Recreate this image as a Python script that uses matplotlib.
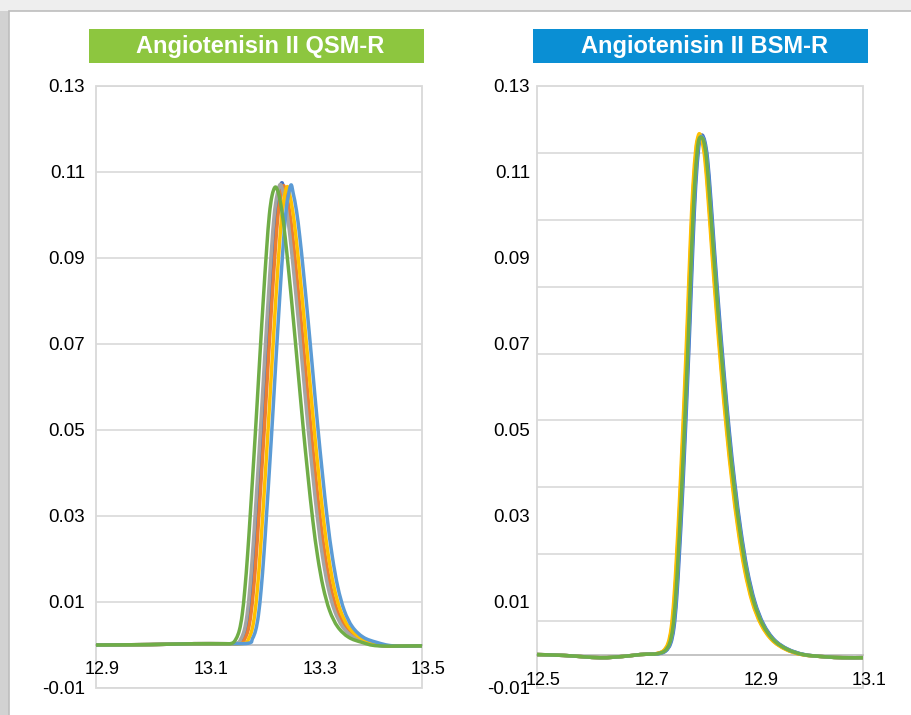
import numpy as np
import matplotlib
matplotlib.use('Agg')
import matplotlib.pyplot as plt
import matplotlib.transforms as mtransforms
from matplotlib.patches import Rectangle, PathPatch
from matplotlib.path import Path

plt.rcParams['font.family'] = ['Liberation Sans', 'DejaVu Sans']

# ============================================================
# data (retention time vs signal)
# ============================================================

COLORS = ['#4472C4', '#ED7D31', '#A5A5A5', '#FFC000', '#5B9BD5', '#70AD47']

# --- QSM-R (left) ---
QSM_Y_LEAD = [0.0000, 0.0001, 0.0003, 0.0003, 0.0004, 0.0015, 0.0035, 0.0070, 0.0130,
              0.0210, 0.0305, 0.0425, 0.0550, 0.0680, 0.0805, 0.0920, 0.1000, 0.1045]
QSM_Y_TAIL = [0.1050, 0.1010, 0.0950, 0.0865, 0.0760, 0.0635, 0.0510, 0.0395, 0.0290,
              0.0205, 0.0135, 0.0080, 0.0042, 0.0018, 0.0006, -0.0002, -0.0002]
QSM_PEAK = [0.1075, 0.1068, 0.1071, 0.1066, 0.1070, 0.1065]
QSM_X = [
    [12.900, 13.000, 13.080, 13.130, 13.162, 13.170, 13.176, 13.181, 13.186, 13.191, 13.196, 13.202,
     13.208, 13.214, 13.220, 13.226, 13.231, 13.236, 13.242, 13.247, 13.253, 13.259, 13.266, 13.274,
     13.283, 13.292, 13.301, 13.310, 13.319, 13.329, 13.341, 13.356, 13.376, 13.401, 13.431, 13.500],
    [12.900, 13.000, 13.080, 13.130, 13.166, 13.174, 13.180, 13.185, 13.190, 13.195, 13.200, 13.206,
     13.212, 13.218, 13.224, 13.230, 13.235, 13.240, 13.245, 13.250, 13.256, 13.262, 13.269, 13.277,
     13.286, 13.295, 13.304, 13.313, 13.322, 13.332, 13.344, 13.359, 13.379, 13.404, 13.434, 13.500],
    [12.900, 13.000, 13.080, 13.130, 13.159, 13.167, 13.173, 13.178, 13.183, 13.188, 13.193, 13.199,
     13.205, 13.211, 13.217, 13.223, 13.228, 13.233, 13.239, 13.245, 13.251, 13.257, 13.264, 13.272,
     13.281, 13.290, 13.299, 13.308, 13.317, 13.327, 13.339, 13.354, 13.374, 13.399, 13.429, 13.500],
    [12.900, 13.000, 13.080, 13.130, 13.173, 13.181, 13.187, 13.192, 13.197, 13.202, 13.207, 13.213,
     13.219, 13.225, 13.231, 13.237, 13.242, 13.247, 13.252, 13.256, 13.262, 13.268, 13.275, 13.283,
     13.292, 13.301, 13.310, 13.319, 13.328, 13.338, 13.350, 13.365, 13.385, 13.410, 13.440, 13.500],
    [12.900, 13.000, 13.080, 13.130, 13.180, 13.188, 13.194, 13.199, 13.204, 13.209, 13.214, 13.220,
     13.226, 13.232, 13.238, 13.244, 13.249, 13.254, 13.259, 13.263, 13.269, 13.275, 13.282, 13.290,
     13.299, 13.308, 13.317, 13.326, 13.335, 13.345, 13.357, 13.372, 13.392, 13.417, 13.447, 13.500],
    [12.900, 13.000, 13.080, 13.130, 13.150, 13.158, 13.164, 13.169, 13.174, 13.179, 13.184, 13.190,
     13.196, 13.202, 13.208, 13.214, 13.219, 13.224, 13.230, 13.236, 13.242, 13.248, 13.255, 13.263,
     13.272, 13.281, 13.290, 13.299, 13.308, 13.318, 13.330, 13.345, 13.365, 13.390, 13.420, 13.500],
]

# --- BSM-R (right) ---
BSM_Y_LEAD = [0.0000, -0.0002, -0.0007, -0.0004, 0.0000, 0.0001, 0.0002, 0.0008, 0.0025, 0.0060,
              0.0125, 0.0225, 0.0340, 0.0470, 0.0610, 0.0760, 0.0920, 0.1050, 0.1130, 0.1155]
BSM_Y_TAIL = [0.1150, 0.1110, 0.1020, 0.0900, 0.0770, 0.0635, 0.0500, 0.0385, 0.0280, 0.0190,
              0.0118, 0.0068, 0.0033, 0.0012, 0.0000, -0.0005, -0.0007, -0.0007]
BSM_PEAK = [0.1165, 0.1165, 0.1163, 0.1168, 0.1162, 0.1160]
BSM_X = [
    [12.500, 12.550, 12.616, 12.660, 12.690, 12.710, 12.724, 12.737, 12.746, 12.752, 12.757, 12.762, 12.767,
     12.772, 12.777, 12.782, 12.787, 12.792, 12.797, 12.800, 12.804, 12.809, 12.814, 12.820, 12.827, 12.835,
     12.844, 12.854, 12.864, 12.875, 12.887, 12.901, 12.917, 12.937, 12.962, 12.992, 13.030, 13.063, 13.100],
    [12.500, 12.550, 12.616, 12.660, 12.690, 12.710, 12.720, 12.733, 12.742, 12.748, 12.753, 12.758, 12.763,
     12.768, 12.773, 12.778, 12.783, 12.788, 12.793, 12.796, 12.800, 12.805, 12.810, 12.816, 12.823, 12.831,
     12.840, 12.850, 12.860, 12.871, 12.883, 12.897, 12.913, 12.933, 12.958, 12.988, 13.030, 13.063, 13.100],
    [12.500, 12.550, 12.616, 12.660, 12.690, 12.710, 12.721, 12.734, 12.743, 12.749, 12.754, 12.759, 12.764,
     12.769, 12.774, 12.779, 12.784, 12.789, 12.794, 12.797, 12.801, 12.806, 12.811, 12.817, 12.824, 12.832,
     12.841, 12.851, 12.861, 12.872, 12.884, 12.898, 12.914, 12.934, 12.959, 12.989, 13.030, 13.063, 13.100],
    [12.500, 12.550, 12.616, 12.660, 12.690, 12.710, 12.719, 12.732, 12.741, 12.747, 12.752, 12.757, 12.762,
     12.767, 12.772, 12.777, 12.782, 12.787, 12.792, 12.795, 12.799, 12.804, 12.809, 12.815, 12.822, 12.830,
     12.839, 12.849, 12.859, 12.870, 12.882, 12.896, 12.912, 12.932, 12.957, 12.987, 13.030, 13.063, 13.100],
    [12.500, 12.550, 12.616, 12.660, 12.690, 12.710, 12.723, 12.736, 12.745, 12.751, 12.756, 12.761, 12.766,
     12.771, 12.776, 12.781, 12.786, 12.791, 12.796, 12.799, 12.803, 12.808, 12.813, 12.819, 12.826, 12.834,
     12.843, 12.853, 12.863, 12.874, 12.886, 12.900, 12.916, 12.936, 12.961, 12.991, 13.030, 13.063, 13.100],
    [12.500, 12.550, 12.616, 12.660, 12.690, 12.710, 12.722, 12.735, 12.744, 12.750, 12.755, 12.760, 12.765,
     12.770, 12.775, 12.780, 12.785, 12.790, 12.795, 12.798, 12.802, 12.807, 12.812, 12.818, 12.825, 12.833,
     12.842, 12.852, 12.862, 12.873, 12.885, 12.899, 12.915, 12.935, 12.960, 12.990, 13.030, 13.063, 13.100],
]

QSM_XTICKS = [12.9, 13.1, 13.3, 13.5]
BSM_XTICKS = [12.5, 12.7, 12.9, 13.1]
Y_LABEL_TICKS = [-0.01, 0.01, 0.03, 0.05, 0.07, 0.09, 0.11, 0.13]

TITLES = ['Angiotenisin II QSM-R', 'Angiotenisin II BSM-R']
TITLE_COLORS = ['#8DC63F', '#0A8FD4']

# ============================================================
# figure
# ============================================================

W, H = 912, 715
fig = plt.figure(figsize=(W / 100, H / 100), dpi=100)
fig.patch.set_facecolor('#EEEEEE')


def px_box(x0, y0, x1, y1):
    """pixel box (top-left origin) -> figure fraction rect"""
    return [x0 / W, 1 - y1 / H, (x1 - x0) / W, (y1 - y0) / H]


def fig_rect(box, **kw):
    r = px_box(*box)
    fig.patches.append(Rectangle(r[:2], r[2], r[3], transform=fig.transFigure, **kw))


def smooth_line(ax, xs, ys, color):
    """Excel-style smoothed line: Catmull-Rom segments as cubic Bezier path"""
    P = np.column_stack([xs, ys])
    Q = np.vstack([P[0], P, P[-1]])
    verts = [P[0]]
    codes = [Path.MOVETO]
    for i in range(len(P) - 1):
        p0, p1, p2, p3 = Q[i], Q[i + 1], Q[i + 2], Q[i + 3]
        verts += [p1 + (p2 - p0) / 6, p2 - (p3 - p1) / 6, p2]
        codes += [Path.CURVE4] * 3
    ax.add_patch(PathPatch(Path(verts, codes), fill=False, ec=color, lw=2.5,
                           capstyle='round', joinstyle='round', zorder=3))


# page background: grey strip on the left, white card
fig_rect((0, 11, 9, H), fc='#D2D2D2', ec='none', zorder=-10)
fig_rect((9, 11, W + 2, H + 2), fc='white', ec='#BDBDBD', lw=1.2, zorder=-9)

# title banners
for (x0, x1), title, col in zip([(89, 424), (533, 868)], TITLES, TITLE_COLORS):
    fig_rect((x0, 29, x1, 63), fc=col, ec='none', zorder=-8)
    fig.text((x0 + x1) / 2 / W + 4 / W, 1 - 46 / H, title, color='white', fontsize=17,
             fontweight='bold', ha='center', va='center')

shift = mtransforms.ScaledTranslation(6.5 / 100, 0, fig.dpi_scale_trans)


def base_style(ax, xticks, xpad):
    for s in ax.spines.values():
        s.set_visible(False)
    ax.add_patch(Rectangle((0, 0), 1, 1, transform=ax.transAxes, fill=False,
                           ec='#D9D9D9', lw=1.3, zorder=0.5, clip_on=False))
    ax.spines['bottom'].set_visible(True)
    ax.spines['bottom'].set_position(('data', 0))
    ax.spines['bottom'].set_color('#BFBFBF')
    ax.spines['bottom'].set_linewidth(1.3)
    ax.set_xticks(xticks)
    ax.set_xticklabels([f'{v:.1f}' for v in xticks])
    ax.tick_params(axis='x', length=0, pad=xpad, labelsize=13, colors='black')
    for lab in ax.get_xticklabels():
        lab.set_transform(lab.get_transform() + shift)
    ax.set_xlim(xticks[0], xticks[-1])
    ax.set_facecolor('none')
    ax.set_axisbelow(True)
    ax.yaxis.grid(True, color='#D9D9D9', lw=1.2)


# ---------- left: QSM-R ----------
axL = fig.add_axes(px_box(96, 86, 422, 688))
base_style(axL, QSM_XTICKS, 11.5)
axL.set_ylim(-0.01, 0.13)
axL.set_yticks(Y_LABEL_TICKS)
axL.set_yticklabels([f'{v:.2f}' for v in Y_LABEL_TICKS])
axL.tick_params(axis='y', length=0, pad=8, labelsize=13.5)
for xs, pk, col in zip(QSM_X, QSM_PEAK, COLORS):
    smooth_line(axL, xs, QSM_Y_LEAD + [pk] + QSM_Y_TAIL, col)

# ---------- right: BSM-R ----------
rect_R = px_box(537, 86, 863, 688)
labR = fig.add_axes(rect_R)
labR.set_ylim(-0.01, 0.13)
labR.set_yticks(Y_LABEL_TICKS)
labR.set_yticklabels([f'{v:.2f}' for v in Y_LABEL_TICKS])
labR.tick_params(axis='y', length=0, pad=5, labelsize=13.5)
labR.set_xticks([])
for s in labR.spines.values():
    s.set_visible(False)
labR.set_facecolor('none')

axR = fig.add_axes(rect_R)
base_style(axR, BSM_XTICKS, 12.5)
axR.set_ylim(-0.0075, 0.1275)
axR.set_yticks(np.arange(0.0075, 0.12, 0.015))
axR.tick_params(axis='y', length=0, labelleft=False)
for xs, pk, col in zip(BSM_X, BSM_PEAK, COLORS):
    smooth_line(axR, xs, BSM_Y_LEAD + [pk] + BSM_Y_TAIL, col)

fig.savefig('out.png', dpi=100, facecolor=fig.get_facecolor())
